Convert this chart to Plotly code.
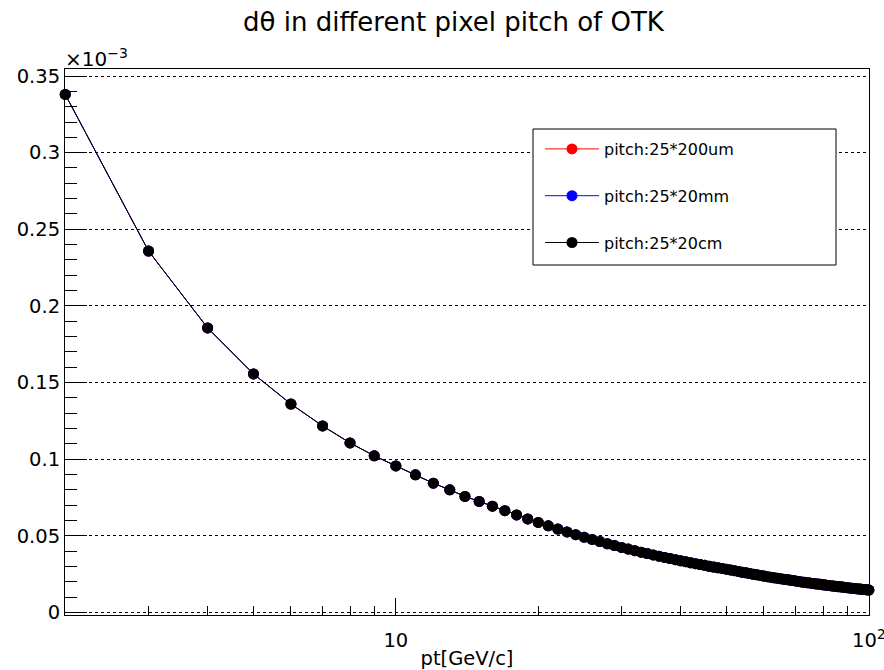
import plotly.graph_objects as go

# pt values [GeV/c]
pt = list(range(2, 101))

# dtheta values in units of 1e-3
dtheta_20cm = [
    0.338, 0.2358, 0.1856, 0.1556, 0.1360, 0.1217, 0.1106, 0.1022, 0.0956,   # 2-10
    0.0898, 0.0843, 0.0800, 0.0757, 0.0724, 0.0693, 0.0664, 0.0636, 0.0610, 0.0587,  # 11-20
    0.0565, 0.0544, 0.0525, 0.0507, 0.0491, 0.0476, 0.0462, 0.0448, 0.0436, 0.0424,  # 21-30
    0.0413, 0.0403, 0.0393, 0.0384, 0.0375, 0.0367, 0.0359, 0.0351, 0.0344, 0.0337,  # 31-40
    0.0331, 0.0324, 0.0318, 0.0312, 0.0307, 0.0301, 0.0296, 0.0291, 0.0287, 0.0282,  # 41-50
    0.0277, 0.0272, 0.0267, 0.0262, 0.0258, 0.0253, 0.0249, 0.0245, 0.0241, 0.0237,  # 51-60
    0.0233, 0.0230, 0.0226, 0.0223, 0.0220, 0.0217, 0.0214, 0.0211, 0.0208, 0.0205,  # 61-70
    0.0202, 0.0199, 0.0197, 0.0194, 0.0192, 0.0189, 0.0187, 0.0185, 0.0183, 0.0180,  # 71-80
    0.0178, 0.0176, 0.0174, 0.0172, 0.0170, 0.0168, 0.0167, 0.0165, 0.0163, 0.0161,  # 81-90
    0.0160, 0.0158, 0.0156, 0.0155, 0.0153, 0.0152, 0.0150, 0.0149, 0.0147, 0.0146,  # 91-100
]
# the three pitches give identical curves (they overlap in the picture)
dtheta_200um = list(dtheta_20cm)
dtheta_20mm = list(dtheta_20cm)

series_names = ["pitch:25*200um", "pitch:25*20mm", "pitch:25*20cm"]
series_colors = ["#ff0000", "#0000ff", "#000000"]
series_values = [dtheta_200um, dtheta_20mm, dtheta_20cm]

y_tickvals = [0, 0.05, 0.1, 0.15, 0.2, 0.25, 0.3, 0.35]
y_ticktext = ["0", "0.05", "0.1", "0.15", "0.2", "0.25", "0.3", "0.35"]
y_minor = [round(0.01 * i, 2) for i in range(0, 36) if i % 5 != 0]
x_tickvals = [10, 100]
x_ticktext = ["10", "10<sup>2</sup>"]
x_minor = [3, 4, 5, 6, 7, 8, 9, 20, 30, 40, 50, 60, 70, 80, 90]

FONT = "DejaVu Sans"
PW, PH = 804, 546  # plot area size in px

fig = go.Figure()
for name, color, vals in zip(series_names, series_colors, series_values):
    fig.add_trace(go.Scatter(
        x=pt, y=vals, name=name, mode="lines+markers",
        line=dict(color=color, width=1),
        marker=dict(color=color, size=11, symbol="circle", line=dict(width=0)),
        cliponaxis=False, legendgroup=name,
    ))

fig.update_layout(
    width=884, height=670,
    margin=dict(l=65, r=15, t=69, b=55, autoexpand=False),
    paper_bgcolor="white", plot_bgcolor="white",
    font=dict(family=FONT, color="black"),
    title=dict(text="dθ in different pixel pitch of OTK", x=0.513, xanchor="center",
               y=0.967, yanchor="middle", font=dict(size=26, family=FONT)),
    showlegend=True,
    legend=dict(x=(540 - 65) / PW, y=(615 - 132) / PH, xanchor="left", yanchor="top",
                bgcolor="rgba(0,0,0,0)", borderwidth=0,
                font=dict(size=16, family=FONT), itemwidth=54,
                traceorder="grouped", tracegroupgap=23),
    xaxis=dict(type="log", range=[0.3005, 2.0003], automargin=False,
               tickmode="array", tickvals=x_tickvals, ticktext=x_ticktext,
               ticks="inside", ticklen=17, tickwidth=1, tickcolor="black",
               ticklabelstandoff=8, ticklabeloverflow="allow",
               minor=dict(tickmode="array", tickvals=x_minor, ticks="inside",
                          ticklen=9, tickwidth=1, tickcolor="black", showgrid=False),
               showgrid=False, zeroline=False,
               showline=True, mirror=True, linecolor="black", linewidth=1,
               tickfont=dict(size=19.5, family=FONT),
               title=dict(text="pt[GeV/c]", font=dict(size=19.5, family=FONT), standoff=1)),
    yaxis=dict(range=[-0.0017, 0.3546], automargin=False,
               tickmode="array", tickvals=y_tickvals, ticktext=y_ticktext,
               ticks="inside", ticklen=22, tickwidth=1, tickcolor="black",
               minor=dict(tickmode="array", tickvals=y_minor, ticks="inside",
                          ticklen=12, tickwidth=1, tickcolor="black", showgrid=False),
               showgrid=True, gridcolor="black", griddash="dot", gridwidth=1,
               zeroline=False,
               showline=True, mirror=True, linecolor="black", linewidth=1,
               tickfont=dict(size=19.5, family=FONT)),
    shapes=[dict(type="rect", xref="paper", yref="paper",
                 x0=(533 - 65) / PW, x1=(836 - 65) / PW,
                 y0=(615 - 265) / PH, y1=(615 - 129) / PH,
                 line=dict(color="black", width=1), fillcolor="white", layer="above")],
    annotations=[dict(text="×10<sup>−3</sup>", xref="paper", yref="paper",
                      x=-0.003, y=1.0, xanchor="left", yanchor="bottom", yshift=-4,
                      showarrow=False, font=dict(size=20, family=FONT))],
)

fig.write_html("out.html")
